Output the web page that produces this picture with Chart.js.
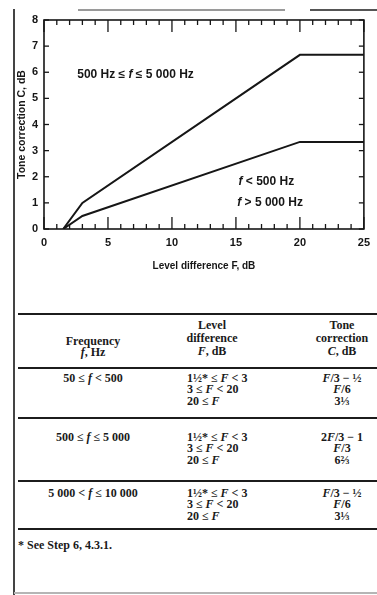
<!DOCTYPE html>
<html>
<head>
<meta charset="utf-8">
<script src="https://cdn.jsdelivr.net/npm/chart.js@4.4.1/dist/chart.umd.min.js"></script>
<style>
  html, body { margin: 0; padding: 0; background: #fff; }
  body { width: 377px; height: 595px; position: relative; overflow: hidden; }
  #plot { position: absolute; left: 0; top: 0; width: 377px; height: 290px; }
  .rule { position: absolute; background: #1c1c1c; }
  .cell { position: absolute; font-family: "Liberation Serif", "DejaVu Serif", serif; font-size: 12px;
          font-weight: bold; color: #1a1a1a; line-height: 14px; white-space: nowrap; }
  .c { transform: translateX(-50%); text-align: center; }
</style>
</head>
<body>
<div id="plot"><canvas id="chart"></canvas></div>

<!-- page edges -->
<div class="rule" style="left:13px; top:9px; width:1.5px; height:586px; background:#444;"></div>
<div class="rule" style="left:78px; top:9px; width:207px; height:2px; background:#9a9a9a;"></div>
<div class="rule" style="left:310px; top:9px; width:67px; height:2px; background:#555;"></div>
<div class="rule" style="left:14px; top:592px; width:363px; height:1.5px; background:#b5b5b5;"></div>

<div id="table"></div>

<script>
// Level difference F (dB) at the break points of each correction curve
const levelDiff = [1.5, 3, 20, 25];
// Tone correction C (dB) for 500 Hz <= f <= 5 000 Hz
const midBandCorrection = [0, 1, 6.667, 6.667];
// Tone correction C (dB) for f < 500 Hz and f > 5 000 Hz
const outerBandCorrection = [0, 0.5, 3.333, 3.333];
// Axis tick labels
const xTickValues = [0, 5, 10, 15, 20, 25];
const yTickValues = [0, 1, 2, 3, 4, 5, 6, 7, 8];

// Curve labels, placed in data coordinates; each part is [text, italic]
const curveLabels = [
  { x: 2.6, y: 5.9, parts: [['500 Hz ≤ ', false], ['f', true], [' ≤ 5 000 Hz', false]] },
  { x: 15.2, y: 1.8, parts: [['f', true], [' < 500 Hz', false]] },
  { x: 15.1, y: 1.0, parts: [['f', true], [' > 5 000 Hz', false]] }
];

const toPoints = (xs, ys) => xs.map((v, i) => ({ x: v, y: ys[i] }));

const INK = '#161616';
const SANS = '"Liberation Sans", Arial, sans-serif';

// Frame with inward tick marks on all four sides, plus curve labels
const framePlugin = {
  id: 'frameTicks',
  afterDatasetsDraw(chart) {
    const { ctx, chartArea: a, scales: { x, y } } = chart;
    ctx.save();
    ctx.strokeStyle = INK;
    ctx.lineWidth = 1.6;
    ctx.strokeRect(a.left, a.top, a.right - a.left, a.bottom - a.top);
    ctx.lineWidth = 1.3;
    const majors = x.ticks.map(t => t.value);
    const seg = (x1, y1, x2, y2) => { ctx.beginPath(); ctx.moveTo(x1, y1); ctx.lineTo(x2, y2); ctx.stroke(); };
    for (let v = x.min; v <= x.max; v += 1) {
      const px = x.getPixelForValue(v);
      const len = majors.includes(v) ? 12 : 5;
      seg(px, a.bottom, px, a.bottom - len);
      seg(px, a.top, px, a.top + len);
    }
    y.ticks.forEach(t => {
      const py = y.getPixelForValue(t.value);
      seg(a.left, py, a.left + 5, py);
      seg(a.right, py, a.right - 5, py);
    });
    ctx.fillStyle = INK;
    ctx.textBaseline = 'middle';
    curveLabels.forEach(lbl => {
      let px = x.getPixelForValue(lbl.x);
      const py = y.getPixelForValue(lbl.y);
      lbl.parts.forEach(([txt, it]) => {
        ctx.font = (it ? 'italic ' : '') + 'bold 12px ' + SANS;
        ctx.fillText(txt, px, py);
        px += ctx.measureText(txt).width;
      });
    });
    ctx.restore();
  }
};

new Chart(document.getElementById('chart'), {
  type: 'scatter',
  data: {
    datasets: [
      { label: '500 Hz ≤ f ≤ 5 000 Hz', data: toPoints(levelDiff, midBandCorrection) },
      { label: 'f < 500 Hz, f > 5 000 Hz', data: toPoints(levelDiff, outerBandCorrection) }
    ].map(d => Object.assign(d, {
      showLine: true, borderColor: INK, borderWidth: 2, pointRadius: 0, tension: 0, fill: false
    }))
  },
  options: {
    responsive: true,
    maintainAspectRatio: false,
    animation: false,
    layout: { padding: { left: 14, right: 4, top: 20, bottom: 0 } },
    plugins: { legend: { display: false }, tooltip: { enabled: false } },
    scales: {
      x: {
        type: 'linear', min: 0, max: 25,
        afterBuildTicks: s => { s.ticks = xTickValues.map(v => ({ value: v })); },
        afterFit: s => { s.height = 61; },
        grid: { display: false, drawTicks: false },
        border: { display: false },
        ticks: { color: INK, padding: 7, font: { family: SANS, size: 11, weight: 'bold' } },
        title: { display: true, text: 'Level difference F, dB', color: INK,
                 padding: { top: 0, bottom: 18 }, font: { family: SANS, size: 10, weight: 'bold' } }
      },
      y: {
        type: 'linear', min: 0, max: 8,
        afterBuildTicks: s => { s.ticks = yTickValues.map(v => ({ value: v })); },
        afterFit: s => { s.width = 30; },
        grid: { display: false, drawTicks: false },
        border: { display: false },
        ticks: { color: INK, padding: 6, font: { family: SANS, size: 11, weight: 'bold' } },
        title: { display: true, text: 'Tone correction C, dB', color: INK,
                 padding: { top: 2, bottom: 0 }, font: { family: SANS, size: 10.5, weight: 'bold' } }
      }
    }
  },
  plugins: [framePlugin]
});

// Correction table below the chart
const headers = [
  { x: 93, lines: [[341, 'Frequency'], [352, '<i>f</i>, Hz']] },
  { x: 212, lines: [[325, 'Level'], [338, 'difference'], [351, '<i>F</i>, dB']] },
  { x: 342, lines: [[325, 'Tone'], [338, 'correction'], [351, '<i>C</i>, dB']] }
];
const bandRows = [
  { y: 378, freq: '50 ≤ <i>f</i> &lt; 500',
    level: ['1½* ≤ <i>F</i> &lt; 3', '3 ≤ <i>F</i> &lt; 20', '20 ≤ <i>F</i>'],
    corr: ['<i>F</i>/3 − ½', '<i>F</i>/6', '3⅓'] },
  { y: 437, freq: '500 ≤ <i>f</i> ≤ 5 000',
    level: ['1½* ≤ <i>F</i> &lt; 3', '3 ≤ <i>F</i> &lt; 20', '20 ≤ <i>F</i>'],
    corr: ['2<i>F</i>/3 − 1', '<i>F</i>/3', '6⅔'] },
  { y: 493, freq: '5 000 &lt; <i>f</i> ≤ 10 000',
    level: ['1½* ≤ <i>F</i> &lt; 3', '3 ≤ <i>F</i> &lt; 20', '20 ≤ <i>F</i>'],
    corr: ['<i>F</i>/3 − ½', '<i>F</i>/6', '3⅓'] }
];
const ruleRows = [313, 367, 417, 480, 528];

const tbl = document.getElementById('table');
const put = (html, x, cy, center) => {
  const d = document.createElement('div');
  d.className = 'cell' + (center ? ' c' : '');
  d.style.left = x + 'px';
  d.style.top = (cy - 7) + 'px';
  d.innerHTML = html;
  tbl.appendChild(d);
};
headers.forEach(h => h.lines.forEach(([cy, t]) => put(t, h.x, cy, true)));
bandRows.forEach(r => {
  put(r.freq, 93, r.y, true);
  r.level.forEach((t, i) => put(t, 187, r.y + i * 11.3, false));
  r.corr.forEach((t, i) => put(t, 342, r.y + i * 11.3, true));
});
ruleRows.forEach(yy => {
  const d = document.createElement('div');
  d.className = 'rule';
  d.style.cssText = `left:18px; top:${yy}px; width:359px; height:1.5px;`;
  tbl.appendChild(d);
});
put('* See Step 6, 4.3.1.', 18, 545, false);
</script>
</body>
</html>
